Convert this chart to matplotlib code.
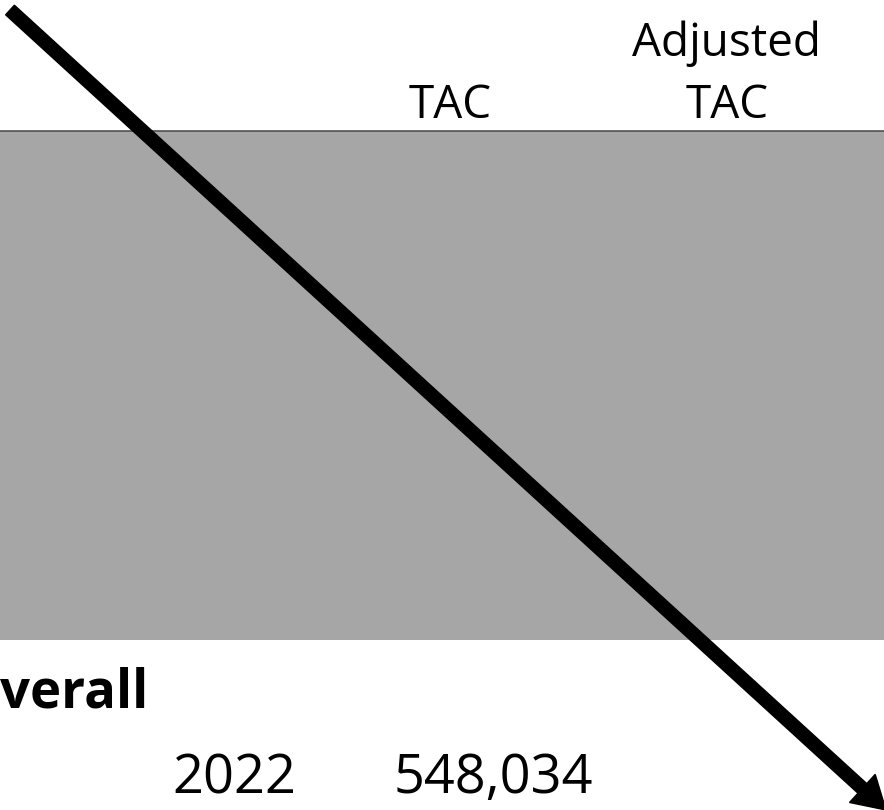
#!/usr/bin/env python

# Cropped TAC table slide with a diagonal "strike-through" arrow

import matplotlib.pyplot as plt
from matplotlib.patches import FancyArrow, Rectangle

header_labels = ['TAC', 'Adjusted\nTAC']
row_label = 'verall'
row_year = '2022'
row_values = ['548,034']

W, H = 884, 810

fig = plt.figure(figsize=(W / 100, H / 100), dpi=100)
ax = fig.add_axes([0, 0, 1, 1])
ax.set_xlim(0, W)
ax.set_ylim(H, 0)
ax.axis('off')

font = 'Open Sans'

# header rule and grey band
ax.plot([0, W], [130.5, 130.5], color='#505050', lw=1.2, solid_capstyle='butt')
ax.add_patch(Rectangle((0, 131), W, 509, facecolor='#a6a6a6', edgecolor='none'))

# column headers
ax.text(450, 118, header_labels[0], ha='center', va='baseline',
        fontsize=33, family=font, color='black')
ax.text(727, 118, header_labels[1], ha='center', va='baseline',
        fontsize=33, family=font, color='black', linespacing=1.45,
        multialignment='center')

# row
ax.text(0, 708, row_label, ha='left', va='baseline',
        fontsize=38, family=font, weight='bold', color='black')
ax.text(234, 793, row_year, ha='center', va='baseline',
        fontsize=39, family=font, color='black')
ax.text(493, 793, row_values[0], ha='center', va='baseline',
        fontsize=39, family=font, color='black')

# diagonal arrow
x0, y0, x1, y1 = 10, 10, 886, 810
ax.add_patch(FancyArrow(x0, y0, x1 - x0, y1 - y0, width=13, head_width=38,
                        head_length=32, length_includes_head=True,
                        color='black', zorder=5))

fig.savefig('out.png', dpi=100)
